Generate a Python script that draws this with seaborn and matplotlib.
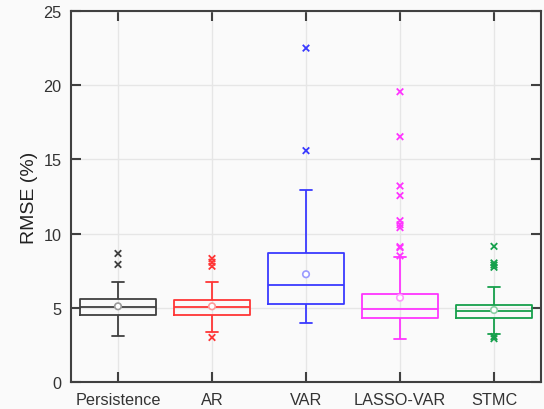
import numpy as np
import pandas as pd
import matplotlib
matplotlib.use("Agg")
import matplotlib.pyplot as plt
import seaborn as sns

# Box summary values (RMSE, %)
models = ['Persistence', 'AR', 'VAR', 'LASSO-VAR', 'STMC']
whis_low = [3.08, 3.38, 3.95, 2.88, 3.20]
q1 = [4.54, 4.49, 5.28, 4.33, 4.31]
median = [5.07, 5.07, 6.54, 4.90, 4.76]
q3 = [5.59, 5.53, 8.67, 5.95, 5.19]
whis_high = [6.76, 6.76, 12.96, 8.44, 6.43]
means = [5.10, 5.10, 7.26, 5.68, 4.85]

outliers_persistence = [8.66, 7.92]
outliers_ar = [8.32, 8.07, 7.80, 3.00]
outliers_var = [22.5, 15.59]
outliers_lasso = [19.56, 16.53, 13.21, 12.56, 10.87, 10.60, 10.40, 9.12, 9.05, 8.50]
outliers_stmc = [9.14, 8.02, 7.88, 7.73, 3.06, 2.92]

colors = ['#3f3f3f', '#ff3535', '#3a3aff', '#ff35ff', '#16a04c']
mean_colors = ['#9a9a9a', '#ff9a9a', '#9a9aff', '#ff9aff', '#8ed0a6']

sns.set_style('whitegrid', {
    'axes.facecolor': '#fafafa',
    'axes.edgecolor': '#404040',
    'grid.color': '#e6e6e6',
})
plt.rcParams['font.family'] = ['Liberation Sans', 'DejaVu Sans']

# five-number table per model (whiskers span min..max of it)
box_rows = []
for i, m in enumerate(models):
    for v in (whis_low[i], q1[i], median[i], q3[i], whis_high[i]):
        box_rows.append({'model': m, 'rmse': v})
box_df = pd.DataFrame(box_rows)

all_outliers = [outliers_persistence, outliers_ar, outliers_var, outliers_lasso, outliers_stmc]
out_rows = []
for i, m in enumerate(models):
    for v in all_outliers[i]:
        out_rows.append({'model': m, 'pos': i, 'rmse': v})
out_df = pd.DataFrame(out_rows)

fig = plt.figure(figsize=(5.44, 4.10), dpi=100, facecolor='#fafafa')
ax = fig.add_axes([0.1305, 0.0659, 0.864, 0.9048])

sns.boxplot(data=box_df, x='model', y='rmse', hue='model', order=models,
            hue_order=models, palette=colors, saturation=1, fill=False,
            width=0.8, whis=(0, 100), linewidth=1.3, legend=False,
            capwidths=0.12, ax=ax)

sns.scatterplot(data=out_df, x='pos', y='rmse', hue='model', hue_order=models,
                palette=colors, marker='x', s=22, linewidth=1.3,
                legend=False, zorder=3, ax=ax)

sns.scatterplot(x=np.arange(len(models)), y=means, color='white',
                edgecolor=mean_colors, marker='o', s=22, linewidth=1.2,
                legend=False, zorder=4, ax=ax)

ax.set_xlim(-0.5, len(models) - 0.5)
ax.set_ylim(0, 25)
ax.set_yticks(range(0, 26, 5))
ax.set_xticks(range(len(models)))
ax.set_xticklabels(models)
ax.set_xlabel('')
ax.set_ylabel('RMSE (%)', fontsize=14, color='#222222', labelpad=4)
ax.grid(True, color='#e6e6e6', linewidth=1)
ax.tick_params(axis='both', direction='in', length=7, width=1.5,
               top=True, right=True, bottom=True, left=True,
               labelsize=11.7, labelcolor='#333333', color='#404040', pad=7)
for s in ax.spines.values():
    s.set_linewidth(1.5)
    s.set_color('#404040')

fig.savefig('out.png', dpi=100, facecolor=fig.get_facecolor())
